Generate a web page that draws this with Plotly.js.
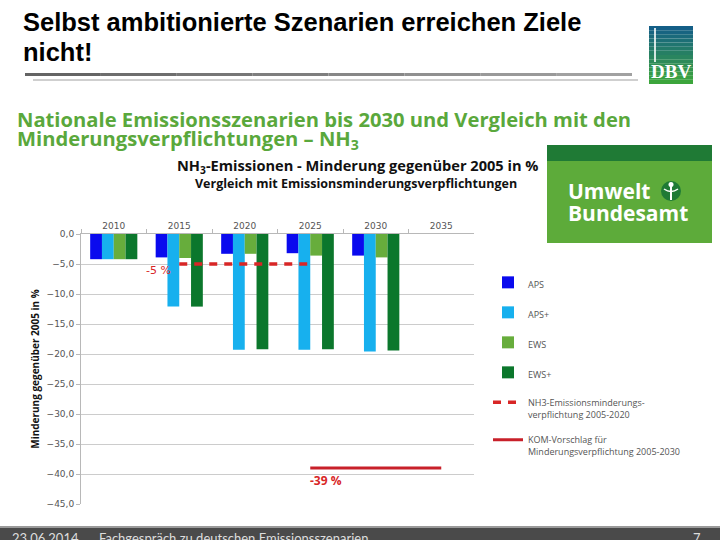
<!DOCTYPE html>
<html>
<head>
<meta charset="utf-8">
<script src="https://cdn.plot.ly/plotly-3.0.1.min.js"></script>
<style>html,body{margin:0;padding:0;background:#fff;}#chart{width:720px;height:540px;}</style>
</head>
<body>
<div id="chart"></div>
<script>
// ---- data ----
var years = ['2010', '2015', '2020', '2025', '2030', '2035'];
var aps     = [-4.2, -3.9, -3.3, -3.2, -3.6, null];
var apsPlus = [-4.2, -12.1, -19.3, -19.3, -19.6, null];
var ews     = [-4.2, -4.0, -3.3, -3.6, -3.9, null];
var ewsPlus = [-4.2, -12.1, -19.2, -19.2, -19.4, null];
var commitYears = ['2015', '2020', '2025'];
var commitVals  = [-5, -5, -5];
var proposalYears = ['2025', '2030', '2035'];
var proposalVals  = [-39, -39, -39];
var yTicks = [0, -5, -10, -15, -20, -25, -30, -35, -40, -45];

var W = 720, H = 540;
function px(x){ return x / W; }
function py(y){ return 1 - y / H; }

var traces = [
  {type:'bar', name:'APS', x:years, y:aps, marker:{color:'#0a0aee'}, legendgroup:'a'},
  {type:'bar', name:'APS+', x:years, y:apsPlus, marker:{color:'#17b0ee'}, legendgroup:'b'},
  {type:'bar', name:'EWS', x:years, y:ews, marker:{color:'#67ad3c'}, legendgroup:'c'},
  {type:'bar', name:'EWS+', x:years, y:ewsPlus, marker:{color:'#0b772c'}, legendgroup:'d'},
  {type:'scatter', mode:'lines', name:'NH3-Emissionsminderungs-<br>verpflichtung 2005-2020',
   x:commitYears, y:commitVals, line:{color:'#d82626', width:3.5, dash:'8px,7px'}, legendgroup:'e'},
  {type:'scatter', mode:'lines', name:'KOM-Vorschlag für<br>Minderungsverpflichtung 2005-2030',
   x:proposalYears, y:proposalVals, line:{color:'#c8202a', width:3}, legendgroup:'f'}
];

// shapes (slide decorations)
var shapes = [];
var segs = 8, x0 = 25, x1 = 632;
for (var i = 0; i < segs; i++) {
  var c = Math.round(100 + i * 70 / segs);
  shapes.push({type:'rect', xref:'paper', yref:'paper',
    x0:px(x0 + (x1 - x0) * i / segs), x1:px(x0 + (x1 - x0) * (i + 1) / segs),
    y0:py(76), y1:py(73), line:{width:0}, fillcolor:'rgb(' + c + ',' + c + ',' + c + ')'});
}
shapes.push({type:'rect', xref:'paper', yref:'paper', x0:px(33), x1:px(638), y0:py(81), y1:py(79),
  line:{width:0}, fillcolor:'#cfcfcf'});
// DBV logo gradient
var ly0 = 26, ly1 = 84, n = 14;
for (var j = 0; j < n; j++) {
  var t = j / (n - 1);
  var r = Math.round(20 + t * (60 - 20));
  var g = Math.round(95 + t * (165 - 95));
  var b = Math.round(135 + t * (60 - 135));
  shapes.push({type:'rect', xref:'paper', yref:'paper', x0:px(649), x1:px(693),
    y0:py(ly0 + (ly1 - ly0) * (j + 1) / n), y1:py(ly0 + (ly1 - ly0) * j / n),
    line:{width:0}, fillcolor:'rgb(' + r + ',' + g + ',' + b + ')'});
}
shapes.push({type:'rect', xref:'paper', yref:'paper', x0:px(654), x1:px(656), y0:py(62), y1:py(28),
  line:{width:0}, fillcolor:'rgba(255,255,255,0.8)'});
// UBA logo
shapes.push({type:'rect', xref:'paper', yref:'paper', x0:px(547), x1:px(712), y0:py(243), y1:py(145),
  line:{width:0}, fillcolor:'#5dab3a'});
shapes.push({type:'rect', xref:'paper', yref:'paper', x0:px(547), x1:px(712), y0:py(161), y1:py(145),
  line:{width:0}, fillcolor:'#1f7a35'});
shapes.push({type:'circle', xref:'paper', yref:'paper', x0:px(661), x1:px(681), y0:py(201), y1:py(181),
  line:{width:0}, fillcolor:'#1f7a35'});
shapes.push({type:'rect', xref:'paper', yref:'paper', x0:px(670), x1:px(672), y0:py(200), y1:py(183),
  line:{width:0}, fillcolor:'#ffffff'});
shapes.push({type:'circle', xref:'paper', yref:'paper', x0:px(668.5), x1:px(673.5), y0:py(187), y1:py(182),
  line:{width:0}, fillcolor:'#ffffff'});
shapes.push({type:'path', xref:'paper', yref:'paper',
  path:'M' + px(664) + ',' + py(189) + ' Q' + px(671) + ',' + py(194) + ' ' + px(678) + ',' + py(189),
  line:{width:1.5, color:'#ffffff'}});
// footer bar
shapes.push({type:'rect', xref:'paper', yref:'paper', x0:0, x1:1, y0:0, y1:py(526),
  line:{width:0}, fillcolor:'#9a9a9a'});
shapes.push({type:'rect', xref:'paper', yref:'paper', x0:0, x1:1, y0:0, y1:py(528),
  line:{width:0}, fillcolor:'#4a4a4a'});

var titleFont = {family:'Liberation Sans, Arial', size:25.5, color:'#000', weight:'bold'};
var headFont = {family:'Open Sans, Noto Sans, sans-serif', size:20.2, color:'#5aa83c', weight:'bold'};
var footFont = {family:'Lato, sans-serif', size:13, color:'#dddddd'};

var annotations = [
  {xref:'paper', yref:'paper', x:px(21), y:py(22), xanchor:'left', yanchor:'middle', showarrow:false,
   text:'Selbst ambitionierte Szenarien erreichen Ziele', font:titleFont},
  {xref:'paper', yref:'paper', x:px(21), y:py(52), xanchor:'left', yanchor:'middle', showarrow:false,
   text:'nicht!', font:titleFont},
  {xref:'paper', yref:'paper', x:px(15), y:py(119), xanchor:'left', yanchor:'middle', showarrow:false,
   text:'Nationale Emissionsszenarien bis 2030 und Vergleich mit den', font:headFont},
  {xref:'paper', yref:'paper', x:px(15), y:py(139), xanchor:'left', yanchor:'middle', showarrow:false,
   text:'Minderungsverpflichtungen – NH<sub>3</sub>', font:headFont},
  {xref:'paper', yref:'paper', x:px(357), y:py(166), xanchor:'center', yanchor:'middle', showarrow:false,
   text:'NH<sub>3</sub>-Emissionen - Minderung gegenüber 2005 in %',
   font:{family:'Open Sans, Noto Sans, sans-serif', size:14.6, color:'#111', weight:'bold'}},
  {xref:'paper', yref:'paper', x:px(356), y:py(183), xanchor:'center', yanchor:'middle', showarrow:false,
   text:'Vergleich mit Emissionsminderungsverpflichtungen',
   font:{family:'Open Sans, Noto Sans, sans-serif', size:12.5, color:'#111', weight:'bold'}},
  {xref:'paper', yref:'paper', x:px(566), y:py(191), xanchor:'left', yanchor:'middle', showarrow:false,
   text:'Umwelt', font:{family:'Open Sans, Noto Sans, sans-serif', size:21, color:'#fff', weight:'bold'}},
  {xref:'paper', yref:'paper', x:px(566), y:py(213), xanchor:'left', yanchor:'middle', showarrow:false,
   text:'Bundesamt', font:{family:'Open Sans, Noto Sans, sans-serif', size:21, color:'#fff', weight:'bold'}},
  {xref:'paper', yref:'paper', x:px(671), y:py(72), xanchor:'center', yanchor:'middle', showarrow:false,
   text:'DBV', font:{family:'Liberation Serif, serif', size:19, color:'#fff', weight:'bold'}},
  {xref:'x', yref:'y', x:1, y:-6, xanchor:'right', yanchor:'middle', xshift:-6, showarrow:false,
   text:'-5 %', font:{family:'DejaVu Sans, sans-serif', size:11, color:'#d82626'}},
  {xref:'x', yref:'y', x:3, y:-41, xanchor:'left', yanchor:'middle', xshift:-2, showarrow:false,
   text:'-39 %', font:{family:'Open Sans, sans-serif', size:12, color:'#d82626', weight:'bold'}},
  {xref:'paper', yref:'paper', x:px(10), y:py(538), xanchor:'left', yanchor:'middle', showarrow:false,
   text:'23.06.2014', font:footFont},
  {xref:'paper', yref:'paper', x:px(97), y:py(538), xanchor:'left', yanchor:'middle', showarrow:false,
   text:'Fachgespräch zu deutschen Emissionsszenarien', font:footFont},
  {xref:'paper', yref:'paper', x:px(697), y:py(538), xanchor:'center', yanchor:'middle', showarrow:false,
   text:'7', font:footFont}
];

var layout = {
  width: W, height: H,
  margin: {l:0, r:0, t:0, b:0},
  paper_bgcolor: '#ffffff', plot_bgcolor: '#ffffff',
  separators: ',.',
  barmode: 'group', bargap: 0.28, bargroupgap: 0,
  showlegend: true,
  legend: {x:px(488), y:py(270), xanchor:'left', yanchor:'top', traceorder:'grouped',
    tracegroupgap: 11, valign:'top', itemwidth: 30,
    font:{family:'Open Sans, Noto Sans, sans-serif', size:9, color:'#555'}, bgcolor:'rgba(0,0,0,0)'},
  xaxis: {type:'category', domain:[px(81), px(474)], range:[-0.5, 5.5], side:'top',
    anchor:'y', showgrid:false, zeroline:false, showline:true, linecolor:'#b8b8b8', linewidth:1,
    ticks:'outside', tickson:'boundaries', ticklen:4, tickcolor:'#b8b8b8',
    tickfont:{family:'DejaVu Sans, sans-serif', size:9, color:'#555'}, fixedrange:true},
  yaxis: {domain:[py(504), py(234)], range:[-45, 0], tickvals:yTicks, tickformat:'.1f',
    showgrid:true, gridcolor:'#cccccc', gridwidth:1, zeroline:false,
    showline:true, linecolor:'#b8b8b8', ticks:'outside', ticklen:4, tickcolor:'#b8b8b8',
    tickfont:{family:'DejaVu Sans, sans-serif', size:9, color:'#555'},
    title:{text:'Minderung gegenüber 2005 in %', standoff:5,
      font:{family:'Open Sans, Noto Sans, sans-serif', size:10, color:'#111', weight:'bold'}}},
  shapes: shapes,
  annotations: annotations
};

Plotly.newPlot('chart', traces, layout, {displayModeBar:false, staticPlot:true});
</script>
</body>
</html>
